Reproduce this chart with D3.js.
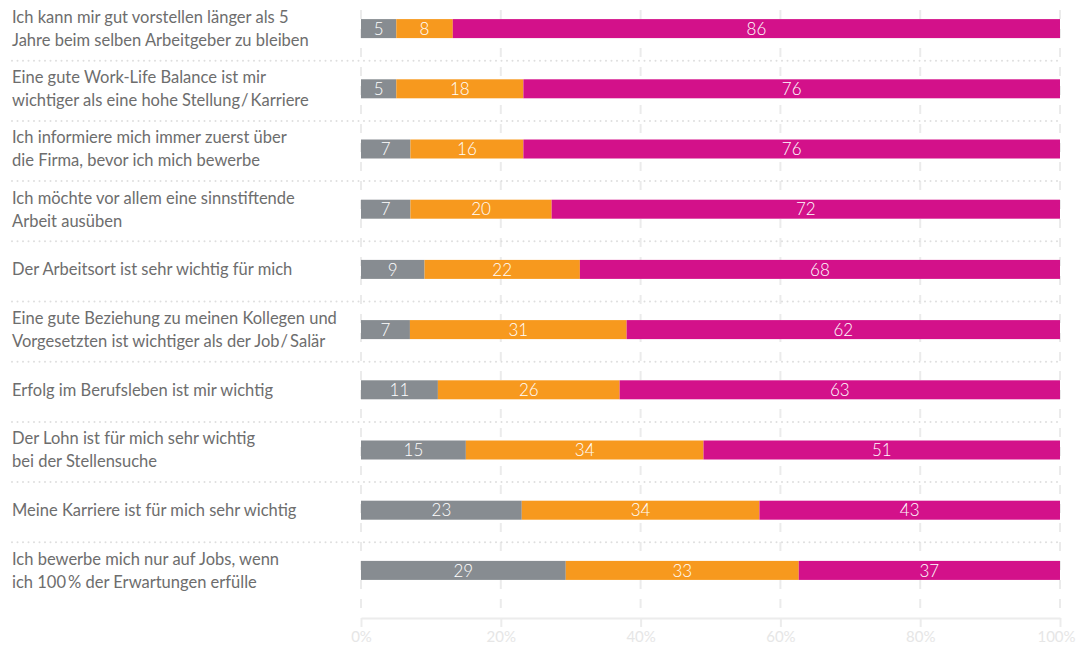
<!DOCTYPE html>
<html>
<head>
<meta charset="utf-8">
<script src="https://cdn.jsdelivr.net/npm/d3@7"></script>
<style>
  html, body { margin: 0; padding: 0; background: #fff; }
  svg { display: block; }
</style>
</head>
<body>
<svg id="chart" width="1078" height="649"></svg>
<script>
// Statements (each label line separated by "\n")
const statements = [
  "Ich kann mir gut vorstellen länger als 5\nJahre beim selben Arbeitgeber zu bleiben",
  "Eine gute Work-Life Balance ist mir\nwichtiger als eine hohe Stellung\u200A/\u2009Karriere",
  "Ich informiere mich immer zuerst über\ndie Firma, bevor ich mich bewerbe",
  "Ich möchte vor allem eine sinnstiftende\nArbeit ausüben",
  "Der Arbeitsort ist sehr wichtig für mich",
  "Eine gute Beziehung zu meinen Kollegen und\nVorgesetzten ist wichtiger als der Job\u200A/\u2009Salär",
  "Erfolg im Berufsleben ist mir wichtig",
  "Der Lohn ist für mich sehr wichtig\nbei der Stellensuche",
  "Meine Karriere ist für mich sehr wichtig",
  "Ich bewerbe mich nur auf Jobs, wenn\nich 100\u2009% der Erwartungen erfülle"
];

// Answer shares in percent
const disagree = [5, 5, 7, 7, 9, 7, 11, 15, 23, 29];
const neutral  = [8, 18, 16, 20, 22, 31, 26, 34, 34, 33];
const agree    = [86, 76, 76, 72, 68, 62, 63, 51, 43, 37];

const seriesKeys = ["disagree", "neutral", "agree"];
const seriesColors = ["#878c91", "#f7991e", "#d3118a"];
const tickValues = [0, 0.2, 0.4, 0.6, 0.8, 1.0];

const rows = statements.map((s, i) => ({
  label: s,
  disagree: disagree[i],
  neutral: neutral[i],
  agree: agree[i]
}));

const svg = d3.select("#chart");
const font = "Lato, 'Open Sans', sans-serif";

const x = d3.scaleLinear().domain([0, 1]).range([361, 1060]);
const y = d3.scaleBand().domain(d3.range(rows.length)).range([-1.5, 600.5]).padding(0);
const barH = 19;
const color = d3.scaleOrdinal().domain(seriesKeys).range(seriesColors);

// Each bar is normalised to its own row total
const stacked = d3.stack().keys(seriesKeys).offset(d3.stackOffsetExpand)(rows);

// Vertical dashed grid lines
svg.append("g")
  .selectAll("line")
  .data(tickValues)
  .join("line")
  .attr("x1", d => x(d)).attr("x2", d => x(d))
  .attr("y1", 10).attr("y2", 609)
  .attr("stroke", "#ebebeb")
  .attr("stroke-width", 2)
  .attr("stroke-dasharray", "9,10");

// Dotted separators between statements
svg.append("g")
  .selectAll("line")
  .data(d3.range(1, rows.length))
  .join("line")
  .attr("x1", 12).attr("x2", 1062)
  .attr("y1", i => y(i) + 2).attr("y2", i => y(i) + 2)
  .attr("stroke", "#dedede")
  .attr("stroke-width", 2)
  .attr("stroke-linecap", "round")
  .attr("stroke-dasharray", "0,5.5");

// Stacked bars
const layers = svg.append("g")
  .selectAll("g")
  .data(stacked)
  .join("g")
  .attr("fill", d => color(d.key));

layers.selectAll("rect")
  .data(d => d.map((v, i) => ({ v, i })))
  .join("rect")
  .attr("x", d => x(d.v[0]))
  .attr("width", d => x(d.v[1]) - x(d.v[0]))
  .attr("y", d => y(d.i) + (y.bandwidth() - barH) / 2)
  .attr("height", barH);

// Value labels inside the segments
const valueLabels = svg.append("g")
  .attr("font-family", font)
  .attr("font-size", 17)
  .attr("font-weight", 300)
  .attr("fill", "#ffffff")
  .attr("text-anchor", "middle");

stacked.forEach(layer => {
  valueLabels.selectAll(null)
    .data(layer.map((v, i) => ({ v, i, val: v.data[layer.key] })))
    .join("text")
    .attr("x", d => (x(d.v[0]) + x(d.v[1])) / 2)
    .attr("y", d => y(d.i) + y.bandwidth() / 2)
    .attr("dy", "0.36em")
    .text(d => d.val);
});

// Statement labels on the left
const labelG = svg.append("g")
  .attr("font-family", font)
  .attr("font-size", 16.5)
  .attr("fill", "#6d6d6d");

rows.forEach((r, i) => {
  const lines = r.label.split("\n");
  const lh = 23;
  const cy = y(i) + y.bandwidth() / 2;
  const t = labelG.append("text").attr("x", 12);
  lines.forEach((ln, k) => {
    t.append("tspan")
      .attr("x", 12)
      .attr("y", cy + (k - (lines.length - 1) / 2) * lh)
      .attr("dy", "0.36em")
      .text(ln);
  });
});

// Bottom percentage axis
const axis = svg.append("g")
  .attr("transform", "translate(0,618)")
  .call(d3.axisBottom(x).tickValues(tickValues).tickSize(9).tickSizeOuter(0)
    .tickFormat(d3.format(".0%")));

axis.select(".domain").attr("stroke", "#ececec").attr("stroke-width", 2);
axis.selectAll(".tick line").attr("stroke", "#ececec").attr("stroke-width", 2);
axis.selectAll(".tick text")
  .attr("fill", "#e6e6e6")
  .attr("font-family", font)
  .attr("font-size", 15)
  .attr("y", 13)
  .attr("dy", "0.71em")
  .attr("dx", d => (d === 1 ? -4 : 0));
</script>
</body>
</html>
